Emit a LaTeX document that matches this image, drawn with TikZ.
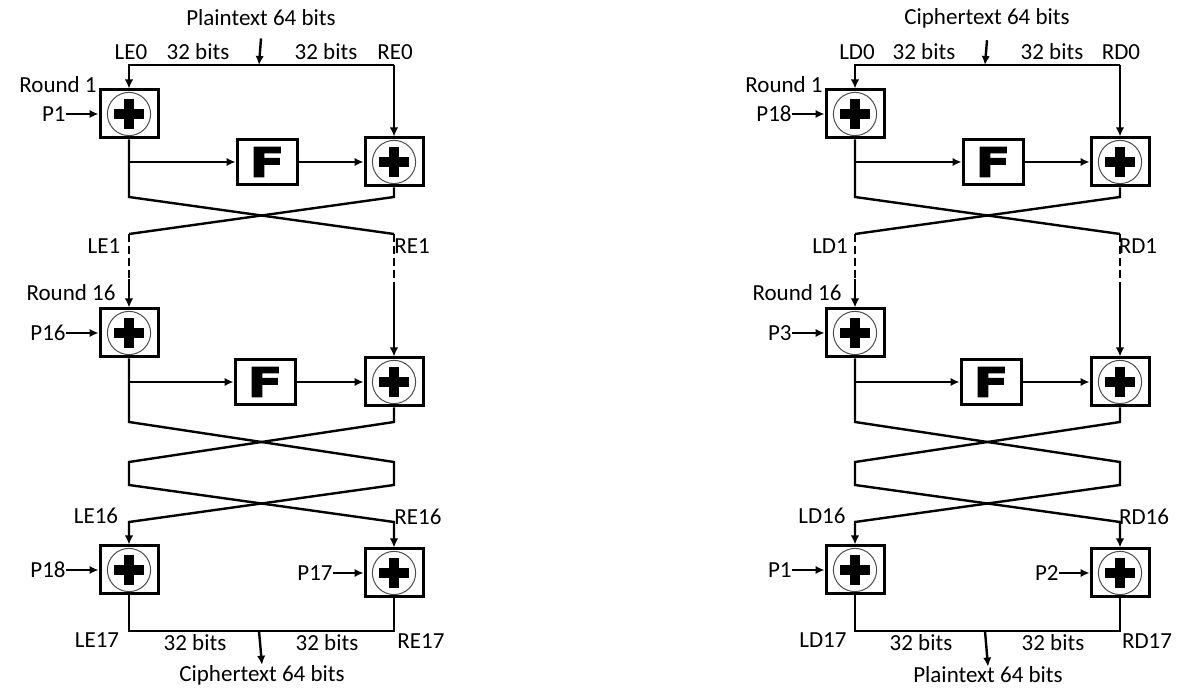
\documentclass[tikz,border=0pt]{standalone}
\usepackage{fontspec}
\usepackage{graphicx}
\setmainfont{Carlito}
\newfontfamily\heavyfont{DejaVu Sans}[BoldFeatures={FakeBold=2.5}]
\usetikzlibrary{arrows.meta}
\tikzset{
    wire/.style={line width=1.2pt},
    feed/.style={wire,-{Latex[length=4.5pt,width=4.2pt]}},
    brokenline/.style={wire,dash pattern=on 4pt off 2pt},
    lab/.style={font=\fontsize{11.5}{13}\selectfont,inner sep=0pt},
    xorbox/.style={draw,line width=1.5pt,minimum width=29pt,minimum height=24pt,inner sep=0pt,
        path picture={
            \draw[gray!60!black,line width=0.5pt] (path picture bounding box.center) circle (10.8pt);
            \fill ([shift={(-7.5pt,-2.6pt)}]path picture bounding box.center) rectangle ([shift={(7.5pt,2.6pt)}]path picture bounding box.center);
            \fill ([shift={(-2.6pt,-7.5pt)}]path picture bounding box.center) rectangle ([shift={(2.6pt,7.5pt)}]path picture bounding box.center);
        }},
    fbox/.style={draw,line width=1.5pt,minimum width=30pt,minimum height=22.5pt,inner sep=0pt,
        font=\heavyfont\bfseries\fontsize{20.5}{20.5}\selectfont}
}
\begin{document}
\begin{tikzpicture}[x=0.5pt,y=-0.5pt]
\useasboundingbox (0,0) rectangle (1179,688);
\foreach \ox/\side/\intext/\outtext/\pone/\ptwo/\pthree/\pfour in
    {0/E/Plaintext/Ciphertext/1/16/18/17, 726/D/Ciphertext/Plaintext/18/3/1/2}{
\begin{scope}[xshift=\ox*0.5pt]
% input split
\node[lab] (in\side) at (261,18) {\intext{} 64 bits};
\coordinate (tm\side) at (259,65);
\coordinate (tl\side) at (129,65);
\coordinate (tr\side) at (394,65);
\node[lab] at (131,52) {L\side0};
\node[lab] at (198,52) {32 bits};
\node[lab] at (326,52) {32 bits};
\node[lab] at (395,52) {R\side0};
\draw[feed] ([yshift=-6pt]in\side.south) -- (tm\side);
% round 1
\node[xorbox] (xa\side) at (129,114) {};
\node[fbox] (fa\side) at (267,162) {\scalebox{1.25}[1]{F}};
\node[xorbox] (xb\side) at (394,162) {};
\node[lab] at (58,85) {Round 1};
\node[lab,anchor=east] (pa\side) at (66,114) {P\pone};
\draw[feed] (tr\side) -- (tl\side) -- (xa\side);
\draw[feed] (tr\side) -- (xb\side);
\draw[feed] (pa\side) -- (xa\side);
\draw[feed] (xa\side |- fa\side) -- (fa\side);
\draw[feed] (fa\side) -- (xb\side);
\coordinate (la\side) at (129,234);
\coordinate (ra\side) at (394,234);
\coordinate (lb\side) at (129,279);
\coordinate (rb\side) at (394,282);
\draw[wire] (xa\side.south) -- (129,197) -- (ra\side);
\draw[wire] (xb\side.south) -- (394,197) -- (la\side);
\draw[brokenline] (la\side) -- (lb\side);
\draw[brokenline] (ra\side) -- (rb\side);
\node[lab] at (104,246) {L\side1};
\node[lab] at (412,246) {R\side1};
% round 16
\node[xorbox] (xc\side) at (129,333) {};
\node[fbox] (fb\side) at (265,382) {\scalebox{1.25}[1]{F}};
\node[xorbox] (xd\side) at (394,382) {};
\node[lab] at (71,293) {Round 16};
\node[lab,anchor=east] (pb\side) at (66,333) {P\ptwo};
\draw[feed] (lb\side) -- (xc\side);
\draw[feed] (rb\side) -- (xd\side);
\draw[feed] (pb\side) -- (xc\side);
\draw[feed] (xc\side |- fb\side) -- (fb\side);
\draw[feed] (fb\side) -- (xd\side);
% swap back and output
\node[xorbox] (xe\side) at (129,570) {};
\node[xorbox] (xf\side) at (394,573) {};
\draw[feed] (xc\side.south) -- (129,422) -- (394,462) -- (394,485) -- (129,522) -- (xe\side);
\draw[feed] (xd\side.south) -- (394,422) -- (129,462) -- (129,485) -- (394,522) -- (xf\side);
\node[lab] at (96,516) {L\side16};
\node[lab] at (418,517) {R\side16};
\node[lab,anchor=east] (pc\side) at (66,570) {P\pthree};
\node[lab,anchor=east] (pd\side) at (333,573) {P\pfour};
\draw[feed] (pc\side) -- (xe\side);
\draw[feed] (pd\side) -- (xf\side);
\coordinate (bm\side) at (259,631);
\node[lab] (out\side) at (262,675) {\outtext{} 64 bits};
\draw[wire] (xe\side.south) -- (129,631) -- (394,631) -- (xf\side.south);
\draw[feed] (bm\side) -- (out\side.north);
\node[lab] at (97,640) {L\side17};
\node[lab] at (195,643) {32 bits};
\node[lab] at (327,643) {32 bits};
\node[lab] at (421,641) {R\side17};
\end{scope}
}
\end{tikzpicture}
\end{document}
